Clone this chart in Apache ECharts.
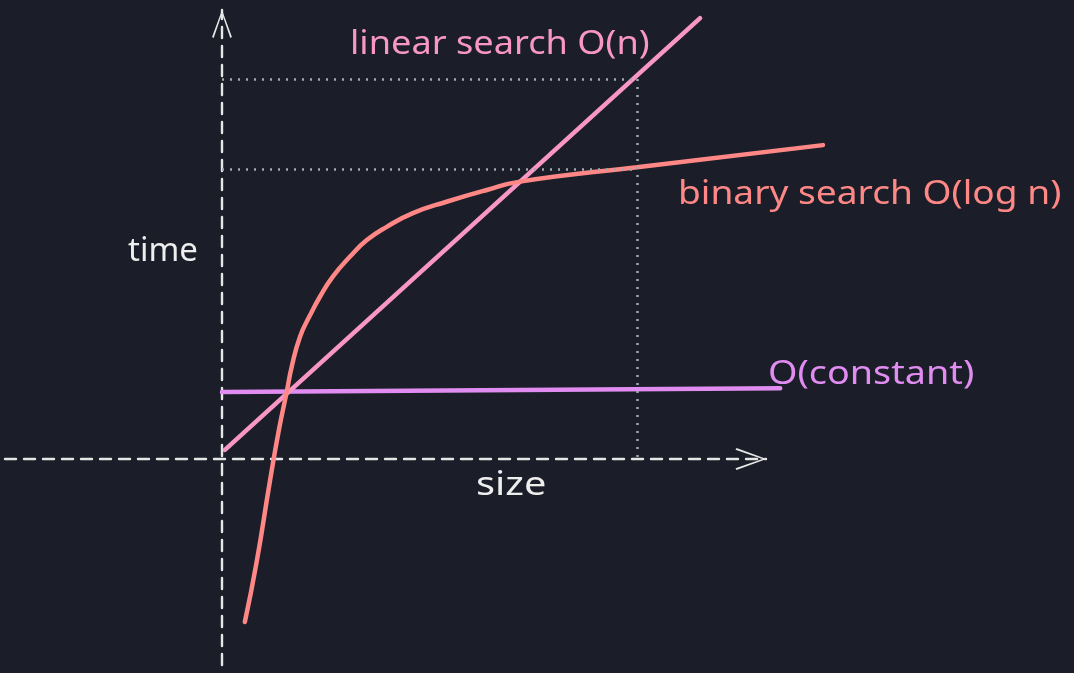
<!DOCTYPE html>
<html>
<head>
<meta charset="utf-8">
<script src="https://cdn.jsdelivr.net/npm/echarts@6/dist/echarts.min.js"></script>
<style>
  html, body { margin: 0; padding: 0; background: #1b1e29; }
  #chart { width: 1074px; height: 673px; }
</style>
</head>
<body>
<div id="chart"></div>
<script>
// ---- data (size on x, time on y) ----
const sizeLinear = [0.07, 11.52];
const timeLinear = [0.24, 11.6];

const sizeConstant = [0, 13.45];
const timeConstant = [1.76, 1.86];

const sizeBinary = [0.55, 0.83, 1.16, 1.37, 1.56, 1.68, 1.88, 2.12, 2.36, 2.67, 3.08, 3.49, 3.97, 4.60, 5.41, 6.38, 7.18, 10, 14.48];
const timeBinary = [-4.29, -2.74, -0.55, 0.76, 1.77, 2.43, 3.22, 3.78, 4.27, 4.80, 5.32, 5.76, 6.11, 6.47, 6.77, 7.08, 7.30, 7.68, 8.26];

// guide lines
const guideSize = 10;
const guideLinearTime = 10;
const guideBinaryTime = 7.62;

const labels = {
  linear: 'linear search O(n)',
  binary: 'binary search O(log n)',
  constant: 'O(constant)',
  yName: 'time',
  xName: 'size'
};

const zip = (xs, ys) => xs.map((x, i) => [x, ys[i]]);

// ---- layout (pixels) ----
const W = 1074, H = 673;
const OX = 222, OY = 459;       // axis crossing
const PXX = 41.5, PXY = 38;     // pixels per unit
const AX = { left: 5, right: 766, top: 10, bottom: 665 };

const FONT = '"Noto Sans", sans-serif';
const AXIS_COLOR = '#e6e6e6';
const chevron = 'path://M0,30 L11,0 L22,30 L20.2,31 L11,4.2 L1.8,31 Z';

const hiddenAxis = (min, max, gridIndex) => ({
  type: 'value', gridIndex, min, max, show: false,
  splitLine: { show: false }, axisTick: { show: false }, axisLabel: { show: false }, axisLine: { show: false }
});

const chart = echarts.init(document.getElementById('chart'), null, { renderer: 'canvas' });

const textEl = (text, x, y, color, scaleX) => ({
  type: 'text', x, y, scaleX, silent: true,
  style: { text, fill: color, font: '32px ' + FONT, textAlign: 'left', textVerticalAlign: 'middle' }
});

chart.setOption({
  animation: false,
  backgroundColor: '#1b1e29',
  grid: [
    { left: AX.left, right: W - AX.right, top: AX.top, bottom: H - AX.bottom },
    { left: 0, right: 0, top: 0, bottom: 0 }
  ],
  xAxis: [
    {
      type: 'value', gridIndex: 0,
      min: (AX.left - OX) / PXX, max: (AX.right - OX) / PXX,
      splitLine: { show: false }, axisTick: { show: false }, axisLabel: { show: false },
      axisLine: {
        show: true, onZero: true,
        symbol: ['none', chevron], symbolSize: [22, 31], symbolOffset: [0, -15],
        lineStyle: { color: AXIS_COLOR, width: 2.4, type: [11, 8] }
      }
    },
    hiddenAxis(-OX / PXX, (W - OX) / PXX, 1)
  ],
  yAxis: [
    {
      type: 'value', gridIndex: 0,
      min: -(AX.bottom - OY) / PXY, max: (OY - AX.top) / PXY,
      splitLine: { show: false }, axisTick: { show: false }, axisLabel: { show: false },
      axisLine: {
        show: true, onZero: true,
        symbol: ['none', chevron], symbolSize: [20, 28], symbolOffset: [0, -14],
        lineStyle: { color: AXIS_COLOR, width: 2.4, type: [11, 8] }
      }
    },
    hiddenAxis(-(H - OY) / PXY, OY / PXY, 1)
  ],
  series: [
    {
      type: 'line', name: 'guides', xAxisIndex: 1, yAxisIndex: 1, data: [], silent: true,
      markLine: {
        silent: true, symbol: 'none', label: { show: false },
        lineStyle: { color: '#a3a8b0', width: 2.5, type: [2, 6] },
        data: [
          [{ coord: [0, guideLinearTime] }, { coord: [guideSize, guideLinearTime] }],
          [{ coord: [guideSize, guideLinearTime] }, { coord: [guideSize, 0] }],
          [{ coord: [0, guideBinaryTime] }, { coord: [guideSize, guideBinaryTime] }]
        ]
      }
    },
    {
      type: 'line', name: labels.constant, xAxisIndex: 1, yAxisIndex: 1,
      data: zip(sizeConstant, timeConstant),
      showSymbol: false, silent: true,
      lineStyle: { color: '#e08cf0', width: 4.5, cap: 'round' }
    },
    {
      type: 'line', name: labels.linear, xAxisIndex: 1, yAxisIndex: 1,
      data: zip(sizeLinear, timeLinear),
      showSymbol: false, silent: true,
      lineStyle: { color: '#f897c6', width: 4.5, cap: 'round' }
    },
    {
      type: 'line', name: labels.binary, xAxisIndex: 1, yAxisIndex: 1,
      data: zip(sizeBinary, timeBinary),
      showSymbol: false, silent: true, smooth: 0.5,
      lineStyle: { color: '#ff8886', width: 4.5, cap: 'round' }
    }
  ],
  graphic: [
    textEl(labels.linear, 350, 45, '#f897c6', 1.13),
    textEl(labels.binary, 678, 195, '#ff8886', 1.16),
    textEl(labels.constant, 768, 375, '#e08cf0', 1.18),
    textEl(labels.yName, 128, 252, '#eeeeee', 1.03),
    textEl(labels.xName, 476, 486, '#eeeeee', 1.24)
  ]
});
</script>
</body>
</html>
